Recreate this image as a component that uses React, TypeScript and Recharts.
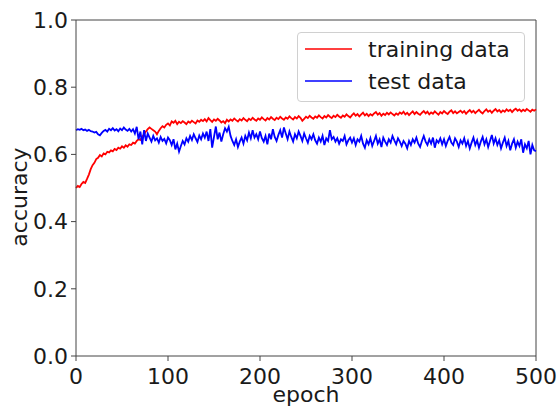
import React from 'react';
import { LineChart, Line, XAxis, YAxis, ReferenceLine } from 'recharts';

// training accuracy, one value every 2 epochs (0..500)
const trainAcc: number[] = [
  0.500, 0.506, 0.503, 0.512, 0.518, 0.515, 0.527, 0.540, 0.556, 0.568,
  0.575, 0.586, 0.590, 0.598, 0.594, 0.603, 0.600, 0.608, 0.606, 0.612,
  0.609, 0.616, 0.613, 0.620, 0.617, 0.624, 0.620, 0.627, 0.623, 0.630,
  0.628, 0.635, 0.632, 0.640, 0.645, 0.643, 0.652, 0.660, 0.668, 0.675,
  0.680, 0.676, 0.672, 0.668, 0.660, 0.670, 0.678, 0.684, 0.680, 0.688,
  0.692, 0.686, 0.698, 0.694, 0.700, 0.690, 0.697, 0.693, 0.699, 0.695,
  0.690, 0.698, 0.694, 0.700, 0.696, 0.692, 0.701, 0.697, 0.703, 0.699,
  0.705, 0.698, 0.708, 0.702, 0.697, 0.704, 0.700, 0.706, 0.701, 0.695,
  0.699, 0.693, 0.703, 0.698, 0.704, 0.700, 0.707, 0.702, 0.698, 0.705,
  0.701, 0.708, 0.703, 0.699, 0.706, 0.702, 0.709, 0.704, 0.700, 0.707,
  0.703, 0.710, 0.705, 0.701, 0.708, 0.704, 0.711, 0.706, 0.702, 0.709,
  0.705, 0.712, 0.707, 0.703, 0.710, 0.706, 0.713, 0.708, 0.704, 0.711,
  0.707, 0.714, 0.709, 0.700, 0.706, 0.712, 0.708, 0.715, 0.710, 0.706,
  0.713, 0.709, 0.716, 0.711, 0.707, 0.714, 0.710, 0.717, 0.712, 0.708,
  0.715, 0.711, 0.718, 0.713, 0.709, 0.716, 0.712, 0.719, 0.714, 0.710,
  0.717, 0.722, 0.715, 0.720, 0.713, 0.719, 0.724, 0.716, 0.721, 0.714,
  0.720, 0.716, 0.722, 0.726, 0.718, 0.723, 0.715, 0.721, 0.717, 0.724,
  0.719, 0.725, 0.720, 0.716, 0.722, 0.718, 0.725, 0.721, 0.727, 0.719,
  0.724, 0.717, 0.723, 0.728, 0.720, 0.726, 0.721, 0.718, 0.724, 0.729,
  0.722, 0.727, 0.719, 0.725, 0.721, 0.728, 0.723, 0.718, 0.726, 0.722,
  0.729, 0.724, 0.720, 0.727, 0.731, 0.723, 0.728, 0.722, 0.726, 0.730,
  0.724, 0.729, 0.721, 0.727, 0.732, 0.725, 0.730, 0.723, 0.728, 0.733,
  0.726, 0.722, 0.729, 0.734, 0.727, 0.731, 0.724, 0.730, 0.735, 0.728,
  0.732, 0.725, 0.731, 0.727, 0.734, 0.729, 0.733, 0.726, 0.732, 0.736,
  0.730, 0.734, 0.728, 0.733, 0.729, 0.735, 0.731, 0.727, 0.733, 0.730, 0.734,
];

// test accuracy, one value every 2 epochs (0..500)
const testAcc: number[] = [
  0.672, 0.675, 0.673, 0.676, 0.672, 0.674, 0.670, 0.673, 0.669, 0.668,
  0.665, 0.667, 0.660, 0.657, 0.664, 0.670, 0.673, 0.668, 0.676, 0.672,
  0.678, 0.671, 0.675, 0.669, 0.677, 0.672, 0.680, 0.674, 0.670, 0.676,
  0.668, 0.675, 0.662, 0.682, 0.645, 0.668, 0.630, 0.672, 0.640, 0.662,
  0.650, 0.638, 0.655, 0.642, 0.648, 0.635, 0.652, 0.640, 0.646, 0.633,
  0.650, 0.642, 0.628, 0.645, 0.615, 0.632, 0.608, 0.625, 0.640, 0.630,
  0.648, 0.638, 0.655, 0.643, 0.660, 0.648, 0.637, 0.656, 0.645, 0.662,
  0.650, 0.668, 0.640, 0.675, 0.620, 0.652, 0.683, 0.645, 0.665, 0.638,
  0.660, 0.678, 0.668, 0.682, 0.655, 0.640, 0.628, 0.645, 0.622, 0.638,
  0.650, 0.632, 0.655, 0.642, 0.665, 0.648, 0.672, 0.650, 0.660, 0.645,
  0.668, 0.648, 0.638, 0.655, 0.630, 0.662, 0.645, 0.675, 0.652, 0.640,
  0.658, 0.672, 0.650, 0.680, 0.662, 0.645, 0.668, 0.652, 0.638, 0.660,
  0.648, 0.668, 0.655, 0.640, 0.662, 0.648, 0.635, 0.655, 0.645, 0.660,
  0.642, 0.632, 0.650, 0.638, 0.655, 0.628, 0.648, 0.640, 0.672, 0.645,
  0.652, 0.638, 0.648, 0.632, 0.645, 0.640, 0.655, 0.630, 0.642, 0.650,
  0.635, 0.648, 0.628, 0.645, 0.638, 0.655, 0.632, 0.620, 0.642, 0.630,
  0.648, 0.625, 0.640, 0.655, 0.632, 0.645, 0.622, 0.650, 0.638, 0.628,
  0.645, 0.635, 0.655, 0.642, 0.630, 0.648, 0.638, 0.625, 0.640, 0.632,
  0.618, 0.640, 0.628, 0.645, 0.635, 0.650, 0.632, 0.622, 0.640, 0.655,
  0.638, 0.628, 0.645, 0.632, 0.650, 0.620, 0.642, 0.635, 0.648, 0.630,
  0.645, 0.625, 0.640, 0.652, 0.635, 0.628, 0.648, 0.638, 0.622, 0.642,
  0.632, 0.648, 0.625, 0.640, 0.618, 0.635, 0.650, 0.628, 0.642, 0.620,
  0.638, 0.652, 0.630, 0.645, 0.622, 0.640, 0.658, 0.632, 0.648, 0.628,
  0.642, 0.618, 0.635, 0.650, 0.625, 0.640, 0.612, 0.632, 0.645, 0.620,
  0.638, 0.625, 0.645, 0.605, 0.630, 0.618, 0.640, 0.600, 0.628, 0.612, 0.610,
];

const xTicks: number[] = [0, 100, 200, 300, 400, 500];
const yTicks: number[] = [0, 0.2, 0.4, 0.6, 0.8, 1.0];
const seriesNames: string[] = ['training data', 'test data'];
const seriesColors: string[] = ['#ff0000', '#0000ff'];

const data = trainAcc.map((v, i) => ({ epoch: i * 2, train: v, test: testAcc[i] }));

const FONT = '"DejaVu Sans", sans-serif';
const TEXT = '#1a1a1a';
const SPINE = '#444444';

export default function App() {
  return (
    <div style={{ position: 'absolute', left: 0, top: 0, width: 559, height: 408, fontFamily: FONT, overflow: 'hidden' }}>
      <LineChart width={559} height={408} data={data} margin={{ top: 20, right: 23, left: 0, bottom: 0 }}>
        <XAxis
          dataKey="epoch"
          type="number"
          domain={[0, 500]}
          ticks={xTicks}
          height={52}
          tickSize={5}
          tickMargin={7}
          axisLine={{ stroke: SPINE, strokeWidth: 1 }}
          tickLine={{ stroke: SPINE, strokeWidth: 1 }}
          tick={{ fill: TEXT, fontSize: 22, fontFamily: FONT }}
          interval={0}
        />
        <YAxis
          type="number"
          domain={[0, 1]}
          ticks={yTicks}
          width={76}
          tickSize={5}
          tickMargin={3}
          axisLine={{ stroke: SPINE, strokeWidth: 1 }}
          tickLine={{ stroke: SPINE, strokeWidth: 1 }}
          tick={{ fill: TEXT, fontSize: 22, fontFamily: FONT }}
          tickFormatter={(v: number) => v.toFixed(1)}
          interval={0}
        />
        <ReferenceLine y={1} stroke={SPINE} strokeWidth={1} />
        <ReferenceLine x={500} stroke={SPINE} strokeWidth={1} />
        <Line type="linear" dataKey="train" stroke={seriesColors[0]} strokeWidth={1.8} dot={false} isAnimationActive={false} />
        <Line type="linear" dataKey="test" stroke={seriesColors[1]} strokeWidth={1.8} dot={false} isAnimationActive={false} />
        <text x={306} y={402} textAnchor="middle" fill={TEXT} fontSize={22} fontFamily={FONT}>epoch</text>
        <text x={27} y={197} textAnchor="middle" fill={TEXT} fontSize={22} fontFamily={FONT} transform="rotate(-90 27 197)">accuracy</text>
      </LineChart>
      <div
        style={{
          position: 'absolute',
          left: 297,
          top: 32,
          width: 228,
          height: 70,
          boxSizing: 'border-box',
          border: '1px solid #d0d0d0',
          borderRadius: 4,
          background: 'rgba(255,255,255,0.8)',
        }}
      >
        <svg width={228} height={70} style={{ position: 'absolute', left: -1, top: -1 }}>
          {seriesNames.map((name, i) => (
            <g key={name}>
              <line x1={8} x2={55} y1={17 + i * 32} y2={17 + i * 32} stroke={seriesColors[i]} strokeWidth={1.5} />
              <text x={71} y={17 + i * 32 + 7.5} fill={TEXT} fontSize={22} fontFamily={FONT}>{name}</text>
            </g>
          ))}
        </svg>
      </div>
    </div>
  );
}
